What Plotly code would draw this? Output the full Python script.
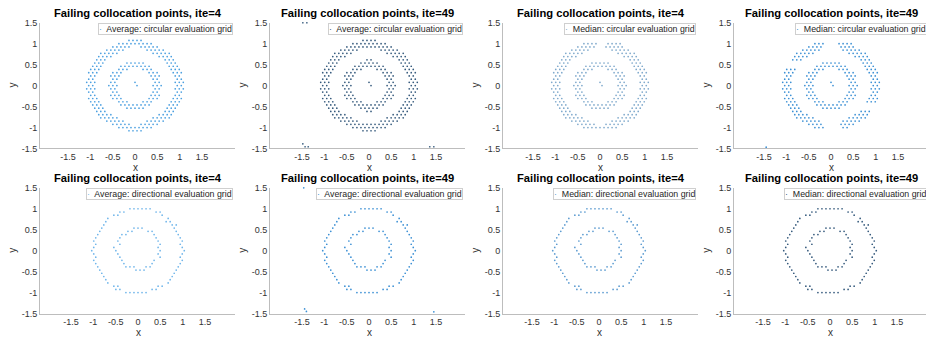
import plotly.graph_objects as go

W, H = 926, 346

# ---------------- data ----------------
TITLES = [
    "Failing collocation points, ite=4", "Failing collocation points, ite=49",
    "Failing collocation points, ite=4", "Failing collocation points, ite=49",
    "Failing collocation points, ite=4", "Failing collocation points, ite=49",
    "Failing collocation points, ite=4", "Failing collocation points, ite=49",
]
LEGEND_NAMES = [
    "Average: circular evaluation grid", "Average: circular evaluation grid",
    "Median: circular evaluation grid", "Median: circular evaluation grid",
    "Average: directional evaluation grid", "Average: directional evaluation grid",
    "Median: directional evaluation grid", "Median: directional evaluation grid",
]
X_TICKS = [-1.5, -1, -0.5, 0, 0.5, 1, 1.5]
X_TICK_TEXT = ["-1.5", "-1", "-0.5", "0", "0.5", "1", "1.5"]
Y_TICKS = [-1.5, -1, -0.5, 0, 0.5, 1, 1.5]
Y_TICK_TEXT = ["-1.5", "-1", "-0.5", "0", "0.5", "1", "1.5"]

# staggered evaluation grid: row k sits at y = k*GRID_DY, '#' marks a failing point,
# successive characters are GRID_DX apart, each row centred on x = 0
GRID_DX = 0.09
GRID_DY = 0.077
ROW_K = list(range(14, -15, -1))

P1_ROWS = [
    "...........####...........",
    "........#########........",
    ".......#####..#####.......",
    ".....#####.....#####.....",
    "....#####........#####....",
    "...####...........####...",
    "...###..............###...",
    "..###.....#####.....###..",
    "..###....########....###..",
    ".###....###...###....###.",
    ".###...###......###...###.",
    ".##...###.......###...##.",
    ".##....##........##....##.",
    "###...##....#....##...###",
    ".##...###....#...###...##.",
    "###...##.........##...###",
    ".##....##........##....##.",
    ".##...###.......###...##.",
    ".###...###......###...###.",
    ".###....###...###....###.",
    "..###....########....###..",
    "..###.....#####.....###..",
    "...###..............###...",
    "...####...........####...",
    "....#####........#####....",
    ".....#####.....#####.....",
    ".......#####..#####.......",
    "........#########........",
    "...........####...........",
]
P2_ROWS = [
    "...........####...........",
    "........#########........",
    ".......############.......",
    ".....#####.....#####.....",
    "....#####........#####....",
    "...####...........####...",
    "...###......##......###...",
    "..###.....#####.....###..",
    "..###....########....###..",
    ".###....###...###....###.",
    ".###...###......###...###.",
    ".##...###.......###...##.",
    ".##....##........##....##.",
    "###...##....#....##...###",
    ".##...###....#...###...##.",
    "###...##.........##...###",
    ".##....##........##....##.",
    ".##...###.......###...##.",
    ".###...###......###...###.",
    ".###....###...###....###.",
    "..###....########....###..",
    "..###.....#####.....###..",
    "...###......##......###...",
    "...####...........####...",
    "....#####........#####....",
    ".....#####.....#####.....",
    ".......############.......",
    "........#########........",
    "...........####...........",
]
P3_ROWS = [
    "..........................",
    "........####..####.......",
    ".......#####..#####.......",
    ".....#####.....#####.....",
    "....#####........#####....",
    "...####...........####...",
    "...###..............###...",
    "..###.....#####.....###..",
    "..###....########....###..",
    ".###....###...###....###.",
    ".###...###......###...###.",
    ".##...###.......###...##.",
    ".##....##........##....##.",
    "###...##....#....##...###",
    ".##...###....#...###...##.",
    "###...##.........##...###",
    ".##....##........##....##.",
    ".##...###.......###...##.",
    ".###...###......###...###.",
    ".###....###...###....###.",
    "..###....########....###..",
    "..###.....#####.....###..",
    "...###..............###...",
    "...####...........####...",
    "....#####........#####....",
    ".....#####.....#####.....",
    ".......#####..#####.......",
    "........#########........",
    "..........................",
]
P4_ROWS = [
    "..........................",
    "........###...####.......",
    ".......####....####.......",
    ".....#####.....#####.....",
    "....#####........#####....",
    "...####...........####...",
    "...###..............###...",
    "..........#####.....###..",
    ".........########....###..",
    ".###....###...###....###.",
    ".###...###......###...###.",
    ".##...###.......###...##.",
    ".##....##........##....##.",
    "###...##....#....##...###",
    ".##...###....#...###...##.",
    "###...##.........##...###",
    ".##....##........##....##.",
    ".##...###.......###...##.",
    ".###...###......###...###.",
    ".###....###...###....###.",
    "..###....########.........",
    "..###.....#####..........",
    "...###..............###...",
    "...####...........####...",
    "....#####........#####....",
    ".....#####.....#####.....",
    ".......####....####.......",
    "........###....##........",
    "..........................",
]
P5_ROWS = [
    "..........................",
    "..........######.........",
    "........##.......##.......",
    "......##..........#......",
    ".....#..............#.....",
    "....#..............##....",
    "....#................##...",
    "...#.......###.......#...",
    "...#......##...##.....#...",
    "..#.....##......#.....#..",
    "..#.....#........#.....#..",
    ".#.....#.........#.....#.",
    "..#.....#.........#....#..",
    ".#....#..........#.....#.",
    ".#.....#..........#.....#.",
    ".#.....#.........#.....#.",
    "..#.....#.........#....#..",
    ".#......#.......#......#.",
    "..#......#......#......#..",
    "..#......###..##......#..",
    "...#........###.......#...",
    "...#.................#...",
    "....#................#....",
    "....#...............#....",
    ".....#..............#.....",
    "......##.........##......",
    ".......##.......##........",
    ".........######..........",
    "..........................",
]
P6_ROWS = list(P5_ROWS)
P7_ROWS = [".........#######........." if i == 1 else r for i, r in enumerate(P5_ROWS)]
P8_ROWS = list(P7_ROWS)

# isolated failing points near the corners of the domain
EXTRA_X = [[], [-1.48, -1.39, -1.48, -1.43, -1.36, 1.36, 1.45], [], [-1.45],
           [], [-1.46, -1.44, -1.40, 1.45], [], []]
EXTRA_Y = [[], [1.5, 1.5, -1.39, -1.46, -1.46, -1.46, -1.46], [], [-1.47],
           [], [1.5, -1.39, -1.45, -1.46], [], []]

ALL_ROWS = [P1_ROWS, P2_ROWS, P3_ROWS, P4_ROWS, P5_ROWS, P6_ROWS, P7_ROWS, P8_ROWS]

# ---------------- style / layout ----------------
COLORS = ["#4a9fe0", "#34597c", "#7fa9cc", "#3a8fd4", "#6fb5ea", "#3a8fd4", "#5a9ad0", "#34597c"]
FONT = "Liberation Sans, Arial, Helvetica, sans-serif"
LEFTS = [40, 270, 503, 734]
ZEROS = [[135, 369, 600, 831], [138, 369, 599, 830]]
AX_W = 195
SCALE = 44.7
ROW_TOP = [18.3, 188.3]
ROW_BOT = [147.7, 317.7]


def decode(rows):
    xs, ys = [], []
    for k, row in zip(ROW_K, rows):
        c0 = (len(row) - 1) / 2
        for c, ch in enumerate(row):
            if ch == "#":
                xs.append(round((c - c0) * GRID_DX, 4))
                ys.append(round(k * GRID_DY, 4))
    return xs, ys


fig = go.Figure()
layout = dict(width=W, height=H, margin=dict(l=0, r=0, t=0, b=0),
              paper_bgcolor="white", plot_bgcolor="white", showlegend=False,
              font=dict(family=FONT, color="#262626"))
annotations = []

for p in range(8):
    r, c = divmod(p, 4)
    sfx = "" if p == 0 else str(p + 1)
    left = LEFTS[c]
    right = min(left + AX_W, W)
    zero = ZEROS[r][c]
    top, bot = ROW_TOP[r], ROW_BOT[r]
    xs, ys = decode(ALL_ROWS[p])
    xs = xs + EXTRA_X[p]
    ys = ys + EXTRA_Y[p]
    fig.add_trace(go.Scatter(x=xs, y=ys, mode="markers", xaxis="x" + sfx, yaxis="y" + sfx,
                             marker=dict(size=1.7, color=COLORS[p], line=dict(width=0)),
                             cliponaxis=False, hoverinfo="skip"))
    xr = [(left - zero) / SCALE, (right - zero) / SCALE]
    layout["xaxis" + sfx] = dict(domain=[left / W, right / W], range=xr, anchor="y" + sfx,
                                 tickvals=X_TICKS, ticktext=X_TICK_TEXT, showgrid=False,
                                 zeroline=False, showline=True, linecolor="#bdbdbd", linewidth=1,
                                 ticks="", tickfont=dict(size=9, color="#333333", family=FONT),
                                 fixedrange=True)
    layout["yaxis" + sfx] = dict(domain=[1 - bot / H, 1 - top / H], range=[-1.5, 1.5],
                                 anchor="x" + sfx, tickvals=Y_TICKS, ticktext=Y_TICK_TEXT,
                                 showgrid=False, zeroline=False, showline=True,
                                 linecolor="#bdbdbd", linewidth=1, ticks="",
                                 tickfont=dict(size=9, color="#333333", family=FONT),
                                 fixedrange=True)
    # title
    annotations.append(dict(text="<b>" + TITLES[p] + "</b>", xref="paper", yref="paper",
                            x=(left + left + AX_W) / 2 / W, y=1 - (top - 10) / H,
                            xanchor="center", yanchor="middle", showarrow=False,
                            font=dict(size=11.2, color="black", family=FONT)))
    # axis labels
    annotations.append(dict(text="x", xref="paper", yref="paper", x=zero / W,
                            y=1 - (bot + 19.5) / H, xanchor="center", yanchor="middle",
                            showarrow=False, font=dict(size=10, color="#333333", family=FONT)))
    annotations.append(dict(text="y", xref="paper", yref="paper", x=(left - 27) / W,
                            y=1 - (top + bot) / 2 / H, xanchor="center", yanchor="middle",
                            textangle=-90, showarrow=False,
                            font=dict(size=10, color="#333333", family=FONT)))
    # legend box
    annotations.append(dict(text="<span style='color:%s'>·</span>  %s" % (COLORS[p], LEGEND_NAMES[p]),
                            xref="paper", yref="paper", x=(left + AX_W - 2) / W,
                            y=1 - top / H, xanchor="right", yanchor="top", showarrow=False,
                            bgcolor="white", bordercolor="#cfcfcf", borderwidth=1, borderpad=0,
                            font=dict(size=8.8, color="#262626", family=FONT)))

layout["annotations"] = annotations
fig.update_layout(**layout)
fig.write_html("out.html", config={"displayModeBar": False, "staticPlot": True},
               post_script="document.body.style.margin='0';document.body.style.overflow='hidden';")
